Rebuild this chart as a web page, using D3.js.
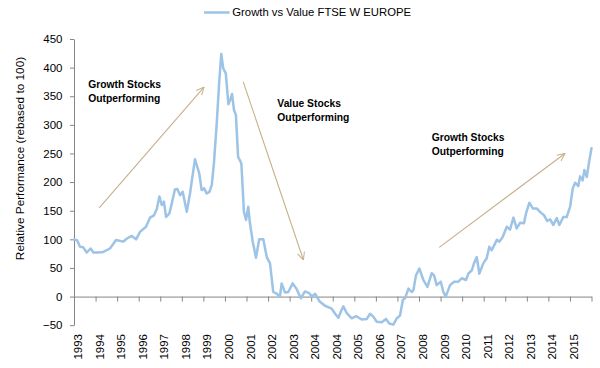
<!DOCTYPE html>
<html>
<head>
<meta charset="utf-8">
<script src="https://cdn.jsdelivr.net/npm/d3@7"></script>
<style>
  html, body { margin: 0; padding: 0; background: #fff; }
  svg { display: block; font-family: "Liberation Sans", Arial, sans-serif; }
</style>
</head>
<body>
<svg id="chart" width="600" height="368"></svg>
<script>
// ---- data ----
const seriesName = "Growth vs Value FTSE W EUROPE";
const yTitle = "Relative Performance (rebased to 100)";
const tickLabels = ["1993","1994","1995","1996","1997","1998","1999","2000","2001","2002","2003",
  "2004","2004","2005","2006","2007","2008","2009","2010","2011","2012","2013","2014","2015"];
const yTicks = [-50, 0, 50, 100, 150, 200, 250, 300, 350, 400, 450];
// position along the category axis (label index units) and relative performance
const periods = [0.02,0.15,0.28,0.43,0.59,0.77,0.90,1.11,1.36,1.67,1.95,2.29,2.44,2.68,2.88,3.06,3.34,3.53,3.71,3.84,
  3.96,4.07,4.17,4.27,4.42,4.53,4.68,4.79,4.92,5.04,5.23,5.38,5.61,5.81,5.92,6.04,6.15,6.28,6.39,6.49,
  6.62,6.74,6.83,6.92,7.04,7.16,7.24,7.33,7.42,7.51,7.61,7.76,7.82,7.88,7.98,8.08,8.16,8.29,8.44,8.59,
  8.78,8.94,9.09,9.24,9.40,9.55,9.63,9.79,9.94,10.14,10.33,10.52,10.71,10.91,11.03,11.18,11.38,11.64,11.95,12.11,
  12.26,12.37,12.49,12.65,12.88,13.08,13.34,13.58,13.73,13.88,14.04,14.27,14.47,14.62,14.81,14.97,15.12,15.25,15.35,15.51,
  15.66,15.74,15.86,16.02,16.20,16.39,16.59,16.70,16.82,17.01,17.13,17.24,17.44,17.63,17.82,17.98,18.18,18.29,18.45,18.55,
  18.68,18.80,18.98,19.14,19.26,19.37,19.53,19.61,19.73,19.88,20.07,20.22,20.38,20.53,20.69,20.87,20.96,21.12,21.28,21.46,
  21.61,21.80,21.95,22.08,22.23,22.39,22.51,22.69,22.85,23.01,23.13,23.24,23.39,23.47,23.59,23.67,23.78,23.90,24.00];
const values = [100,98,87,86,77,84,77,77,78,84,99,96,101,106,100,113,122,138,142,153,
  175,160,166,139,145,162,187,188,177,183,148,180,240,215,186,189,180,183,195,233,
  303,378,424,399,390,336,343,354,326,317,244,233,192,148,134,157,128,96,68,100,
  100,69,58,8,5,0,23,7,8,23,13,-3,9,6,0,5,-8,-16,-21,-30,
  -37,-27,-17,-29,-38,-34,-40,-39,-30,-35,-44,-45,-39,-47,-49,-38,-33,-6,-3,14,
  8,11,37,49,29,17,41,37,20,26,8,0,20,26,26,32,29,40,46,58,
  69,40,58,67,87,81,93,99,96,104,122,117,138,119,129,128,145,164,154,154,
  148,142,132,135,125,137,125,139,139,157,189,199,193,210,203,221,209,238,259];
// annotations (in data coordinates)
const noteLines = [["Growth Stocks","Outperforming"],["Value Stocks","Outperforming"],["Growth Stocks","Outperforming"]];
const noteAt = [[0.66,364],[9.43,332],[16.59,272]];
const arrowFrom = [[1.17,155],[7.85,375],[16.94,86]];
const arrowTo = [[6.03,366],[10.64,64],[22.77,250]];

// ---- chart ----
const svg = d3.select("#chart");
const lineColor = "#9DC3E6", axisColor = "#868686", arrowColor = "#C6B08A";

const x = d3.scaleLinear().domain([0, 24]).range([74, 591.5]);
const y = d3.scaleLinear().domain([-50, 450]).range([325.2, 39]);

// y axis
const gy = svg.append("g").attr("transform", `translate(${x(0)},0)`)
  .call(d3.axisLeft(y).tickValues(yTicks).tickSize(4).tickSizeOuter(0).tickPadding(7.5));
gy.select(".domain").attr("stroke", axisColor);
gy.selectAll(".tick line").attr("stroke", axisColor);
gy.selectAll(".tick text").attr("fill", "#000").style("font-size", "11.5px")
  .style("font-family", '"Liberation Sans", Arial, sans-serif');

// x axis at value 0
const y0 = y(0);
const gx = svg.append("g").attr("transform", `translate(0,${y0})`)
  .call(d3.axisBottom(x).tickValues(d3.range(0, 25)).tickSize(5).tickSizeOuter(0)
    .tickFormat(i => tickLabels[i] !== undefined ? tickLabels[i] : ""));
gx.select(".domain").attr("stroke", axisColor);
gx.selectAll(".tick line").attr("stroke", axisColor);
gx.selectAll(".tick text")
  .attr("fill", "#000").style("font-size", "11.5px")
  .style("font-family", '"Liberation Sans", Arial, sans-serif')
  .attr("x", 0).attr("y", 0).attr("dy", "0.35em")
  .attr("transform", `translate(3.5,${334 - y0}) rotate(-90)`)
  .style("text-anchor", "end");

// y title
svg.append("text")
  .attr("transform", "translate(20,158.5) rotate(-90)")
  .attr("text-anchor", "middle").attr("dy", "0.35em")
  .style("font-size", "11.8px").attr("fill", "#000")
  .text(yTitle);

// series line
const line = d3.line().x(i => x(periods[i])).y(i => y(values[i]));
svg.append("path")
  .attr("d", line(d3.range(values.length)))
  .attr("fill", "none").attr("stroke", lineColor).attr("stroke-width", 2.5)
  .attr("stroke-linejoin", "round").attr("stroke-linecap", "round");

// arrows
svg.append("defs").append("marker")
  .attr("id", "arrowhead").attr("viewBox", "0 0 10 10")
  .attr("refX", 9.5).attr("refY", 5).attr("markerWidth", 9).attr("markerHeight", 9)
  .attr("markerUnits", "userSpaceOnUse").attr("orient", "auto")
  .append("path").attr("d", "M1,1 L9.5,5 L1,9")
  .attr("fill", "none").attr("stroke", arrowColor).attr("stroke-width", 1.1);

arrowFrom.forEach((f, i) => {
  const t = arrowTo[i];
  svg.append("line")
    .attr("x1", x(f[0])).attr("y1", y(f[1]))
    .attr("x2", x(t[0])).attr("y2", y(t[1]))
    .attr("stroke", arrowColor).attr("stroke-width", 1.1)
    .attr("marker-end", "url(#arrowhead)");
});

// annotation texts
noteLines.forEach((lines, i) => {
  const t = svg.append("text")
    .attr("x", x(noteAt[i][0])).attr("y", y(noteAt[i][1]))
    .style("font-size", "10.3px").style("font-weight", "bold").attr("fill", "#000");
  lines.forEach((s, k) => {
    t.append("tspan").attr("x", x(noteAt[i][0])).attr("dy", k === 0 ? 0 : 14).text(s);
  });
});

// legend
svg.append("line").attr("x1", 204).attr("x2", 229.6).attr("y1", 12.5).attr("y2", 12.5)
  .attr("stroke", lineColor).attr("stroke-width", 2.5);
svg.append("text").attr("x", 232.3).attr("y", 16.4)
  .style("font-size", "11.3px").attr("fill", "#000").text(seriesName);
</script>
</body>
</html>
